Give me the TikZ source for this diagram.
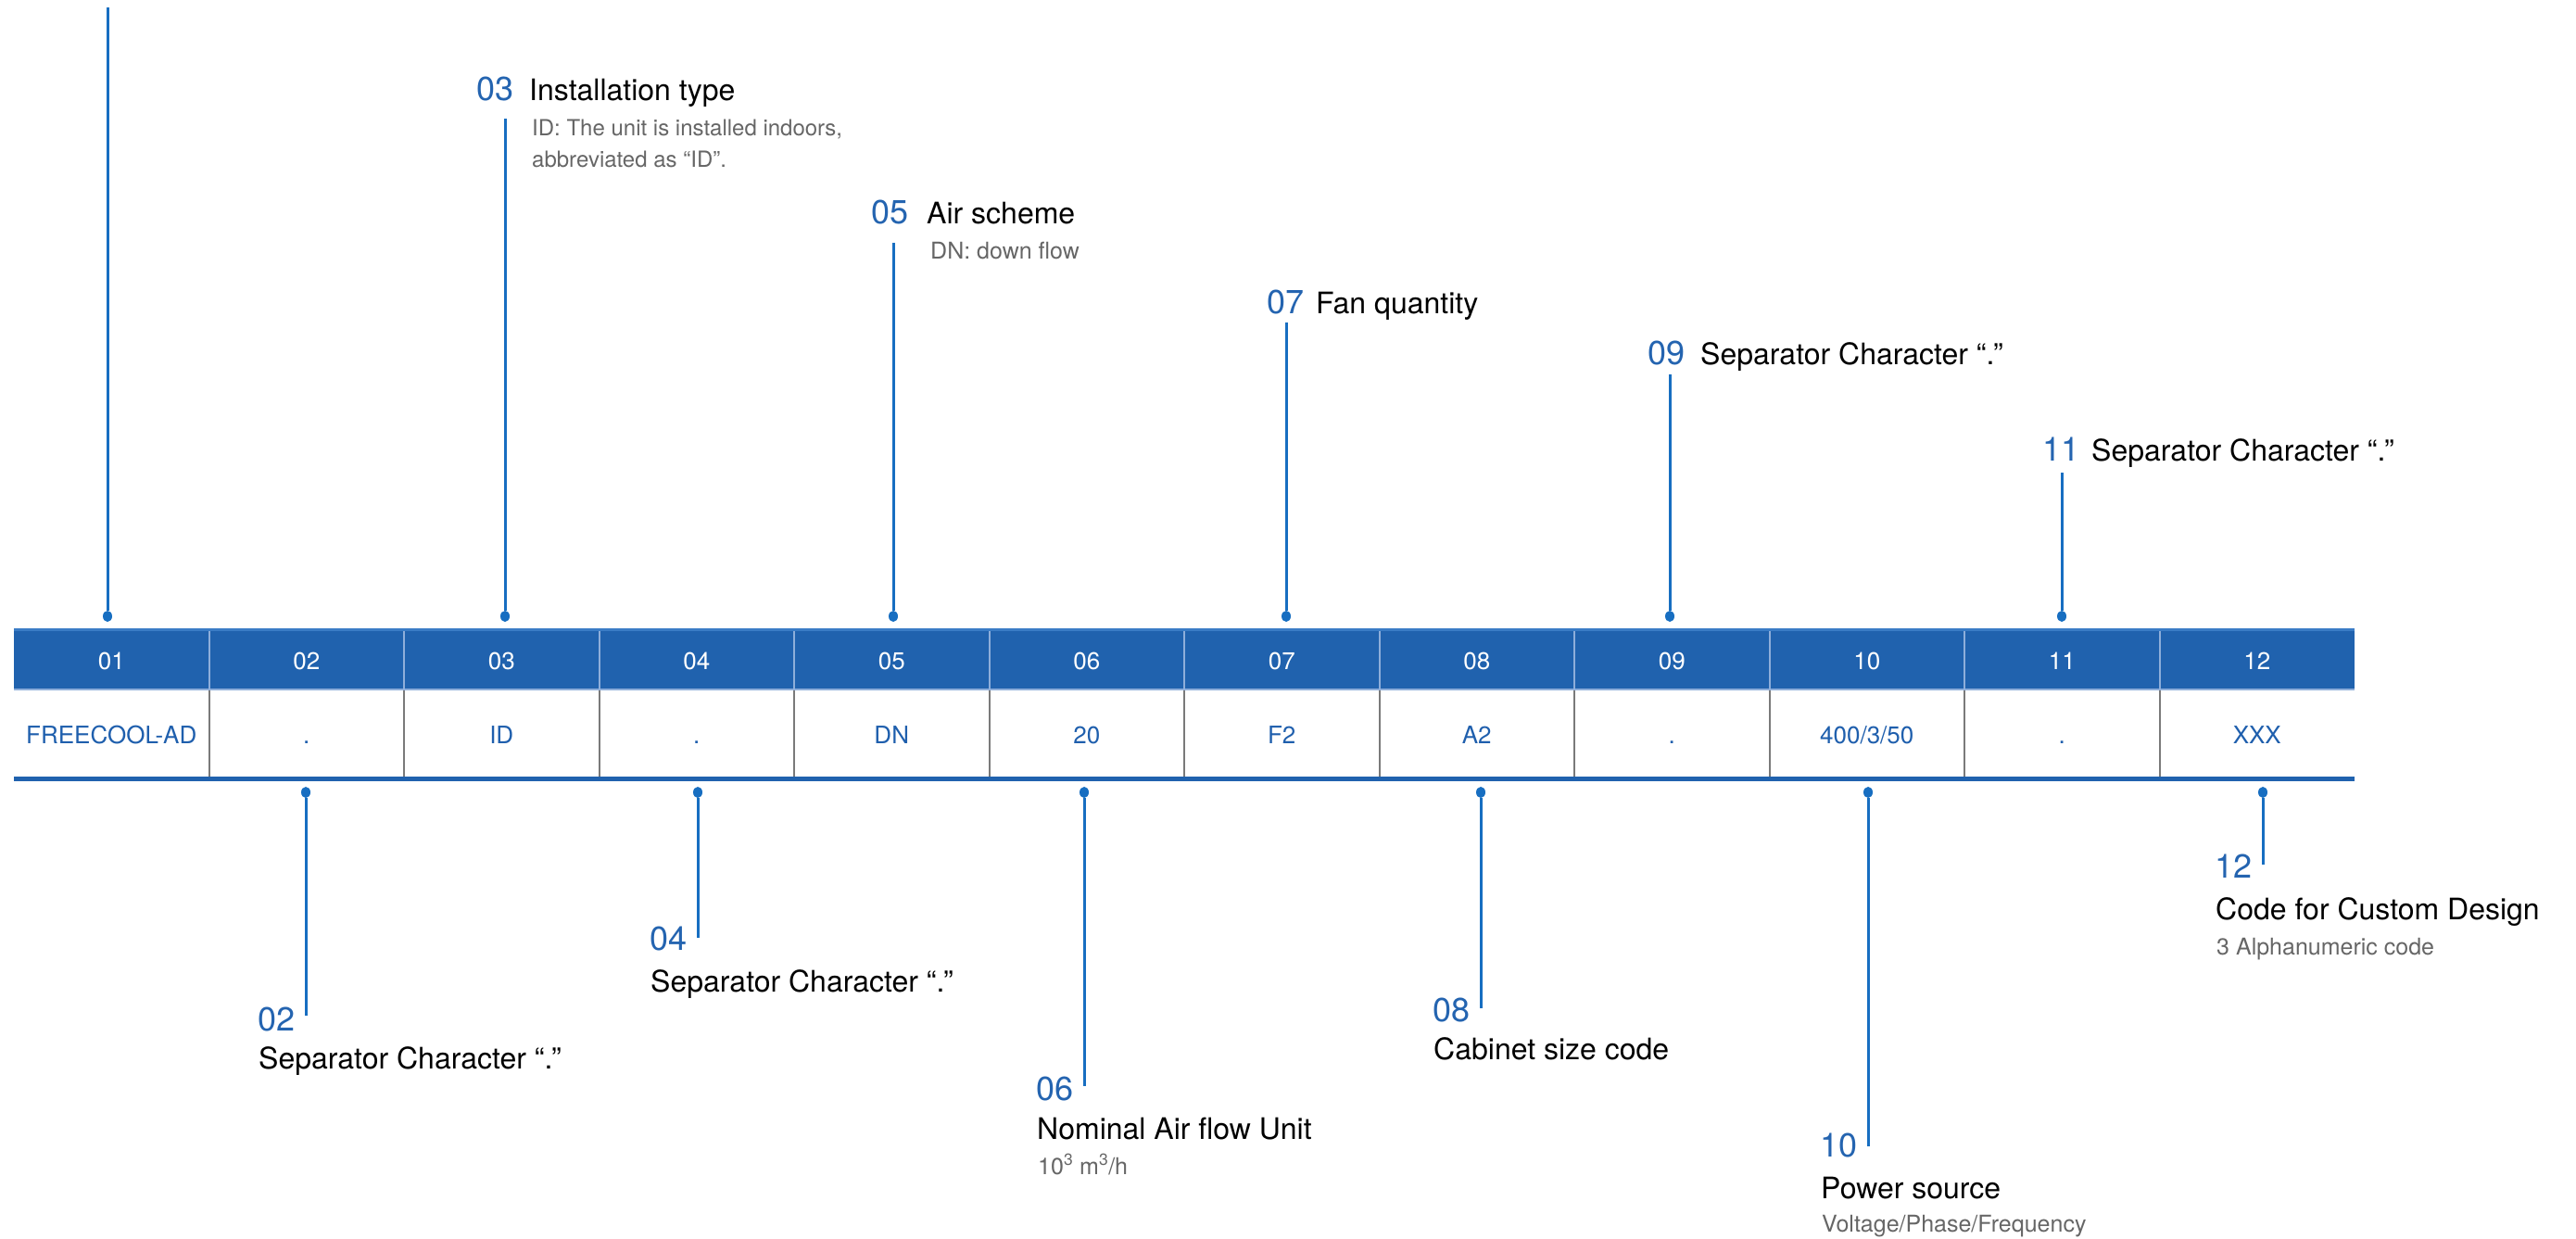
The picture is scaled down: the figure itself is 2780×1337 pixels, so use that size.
\documentclass[tikz,border=0pt]{standalone}
\usepackage{fontspec}
\setmainfont{TeX Gyre Heros}
\usetikzlibrary{shapes.geometric}
\definecolor{hdrblue}{HTML}{2062AE}
\definecolor{hdrtop}{HTML}{3A7CC6}
\definecolor{hdrdiv}{HTML}{8EAEDA}
\definecolor{rowdiv}{HTML}{7A7A7A}
\definecolor{lineblue}{HTML}{176EC1}
\definecolor{numblue}{HTML}{2464B0}
\definecolor{cellblue}{HTML}{1F5FAD}
\definecolor{descgray}{HTML}{666666}
\tikzset{
  num/.style={font=\fontsize{36}{36}\selectfont, text=numblue, inner sep=0pt},
  ttl/.style={font=\fontsize{32}{32}\selectfont, text=black, inner sep=0pt, anchor=base west},
  dsc/.style={font=\fontsize{25}{25}\selectfont, text=descgray, inner sep=0pt, anchor=base west},
  hdrtxt/.style={font=\fontsize{26}{26}\selectfont, text=white, inner sep=0pt, anchor=base},
  rowtxt/.style={font=\fontsize{26}{26}\selectfont, text=cellblue, inner sep=0pt, anchor=base},
  lead/.style={draw=lineblue, line width=3pt},
  dotmark/.style={ellipse, fill=lineblue, minimum width=10pt, minimum height=12pt, inner sep=0pt}
}
\begin{document}
\begin{tikzpicture}[x=1pt,y=-1pt]
\useasboundingbox (0,0) rectangle (2780,1337);
% table
\fill[hdrblue] (15,678) rectangle (2541,744);
\fill[hdrtop] (15,678) rectangle (2541,681);
\draw[hdrdiv, line width=1.5pt] (15,744) -- (2541,744);
\fill[hdrblue] (15,838) rectangle (2541,843);
\foreach \i in {1,...,11} {
  \draw[hdrdiv, line width=2pt] ({15+\i*210.5},681) -- ({15+\i*210.5},744);
  \draw[rowdiv, line width=2pt] ({15+\i*210.5},745) -- ({15+\i*210.5},838);
}
\foreach \i/\h/\v in {1/01/FREECOOL-AD, 2/02/., 3/03/ID, 4/04/., 5/05/DN, 6/06/20, 7/07/F2, 8/08/A2, 9/09/., 10/10/{400/3/50}, 11/11/., 12/12/XXX} {
  \node[hdrtxt] (h\i) at ({15+(\i-0.5)*210.5},722) {\h};
  \node[rowtxt] (r\i) at ({15+(\i-0.5)*210.5},802) {\v};
}
% top leaders
\foreach \k/\x/\t in {1/116/8, 3/545/128, 5/964/262, 7/1388/348, 9/1802/404, 11/2225/510} {
  \node[dotmark] (td\k) at (\x,665) {};
  \coordinate (tt\k) at (\x,\t);
  \draw[lead] (td\k) -- (tt\k);
}
% top labels
\node[num, anchor=base west] (n03) at (514,109) {03};
\node[ttl] (t03) at (571,109) {Installation type};
\node[dsc, font=\fontsize{24}{24}\selectfont] (d03a) at (574,147) {ID: The unit is installed indoors,};
\node[dsc, font=\fontsize{24}{24}\selectfont] (d03b) at (574,181) {abbreviated as “ID”.};
\node[num, anchor=base west] (n05) at (940,242) {05};
\node[ttl] (t05) at (1000,242) {Air scheme};
\node[dsc] (d05) at (1004,280) {DN: down flow};
\node[num, anchor=base west] (n07) at (1367,338) {07};
\node[ttl] (t07) at (1420,338) {Fan quantity};
\node[num, anchor=base west] (n09) at (1778,393) {09};
\node[ttl] (t09) at (1835,393) {Separator Character “.”};
\node[num, anchor=base west] (n11) at (2204,497) {11};
\node[ttl] (t11) at (2257,497) {Separator Character “.”};
% bottom leaders
\foreach \k/\x/\e in {2/330/1096, 4/753/1012, 6/1170/1172, 8/1598/1088, 10/2016/1237, 12/2442/933} {
  \node[dotmark] (bd\k) at (\x,855) {};
  \coordinate (be\k) at (\x,\e);
  \draw[lead] (bd\k) -- (be\k);
}
% bottom labels
\node[num, anchor=base east] (n02) at (319,1112) {02};
\node[ttl] (t02) at (279,1153) {Separator Character “.”};
\node[num, anchor=base east] (n04) at (742,1025) {04};
\node[ttl] (t04) at (702,1070) {Separator Character “.”};
\node[num, anchor=base east] (n06) at (1159,1187) {06};
\node[ttl] (t06) at (1119,1229) {Nominal Air flow Unit};
\node[dsc] (d06) at (1120,1267) {10\textsuperscript{3} m\textsuperscript{3}/h};
\node[num, anchor=base east] (n08) at (1587,1102) {08};
\node[ttl] (t08) at (1547,1143) {Cabinet size code};
\node[num, anchor=base east] (n10) at (2005,1248) {10};
\node[ttl] (t10) at (1965,1293) {Power source};
\node[dsc] (d10) at (1966,1329) {Voltage/Phase/Frequency};
\node[num, anchor=base east] (n12) at (2431,947) {12};
\node[ttl] (t12) at (2391,992) {Code for Custom Design};
\node[dsc] (d12) at (2392,1030) {3 Alphanumeric code};
\end{tikzpicture}
\end{document}
